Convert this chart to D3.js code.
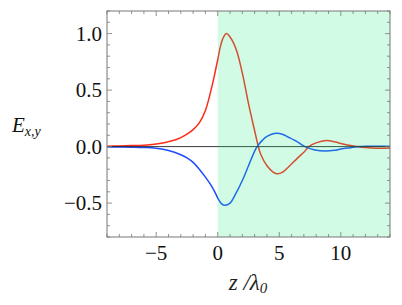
<!DOCTYPE html>
<html><head><meta charset="utf-8">
<script src="https://cdn.jsdelivr.net/npm/d3@7"></script>
<style>body{margin:0;background:#fff}svg{display:block}</style>
</head><body><svg id="c" width="402" height="305"></svg>
<script>
const zRed = [-9,-8,-7,-6,-5,-4.5,-4,-3.5,-3,-2.5,-2,-1.5,-1,-0.5,-0.25,0,0.25,0.5,0.7,1,1.5,2,2.5,3,3.3,3.5,4,4.5,4.8,5.25,5.75,6.5,7,7.4,8,8.8,9.5,10,10.8,11.3,12,13,14];
const exVals = [0.004,0.006,0.009,0.013,0.023,0.031,0.044,0.058,0.08,0.11,0.15,0.21,0.32,0.52,0.64,0.77,0.9,0.975,1.0,0.97,0.86,0.65,0.38,0.14,0.0,-0.07,-0.17,-0.225,-0.24,-0.228,-0.18,-0.1,-0.05,0.0,0.033,0.053,0.042,0.028,0.009,0.0,-0.009,-0.014,-0.012];
const zBlue = [-9,-8,-7,-6,-5,-4,-3,-2.5,-2,-1.5,-1,-0.5,-0.2,0,0.3,0.6,1,1.4,2,2.5,3,3.2,3.6,4,4.7,5.25,5.75,6.5,7.1,7.9,8.75,9.5,10,10.8,11.5,12,13,14];
const eyVals = [-0.002,-0.003,-0.005,-0.008,-0.015,-0.034,-0.072,-0.1,-0.14,-0.2,-0.27,-0.35,-0.41,-0.455,-0.505,-0.52,-0.5,-0.43,-0.3,-0.17,-0.04,0.0,0.053,0.09,0.118,0.11,0.083,0.04,0.0,-0.03,-0.04,-0.033,-0.022,-0.01,0.0,0.003,0.004,0.003];
const xTicks = [-5,0,5,10];
const yTicks = [-0.5,0,0.5,1.0];
const xDomain = [-9,14], yDomain = [-0.8,1.2];
const shadeFrom = 0;

const FONT = "'Liberation Serif','Tinos','Times New Roman','DejaVu Serif',serif";
const svg = d3.select("#c");
const L=107,R=390,T=11,B=237;
const x = d3.scaleLinear().domain(xDomain).range([L,R]);
const y = d3.scaleLinear().domain(yDomain).range([B,T]);

const line = d3.line().x(d=>x(d[0])).y(d=>y(d[1])).curve(d3.curveCatmullRom.alpha(0.5));
svg.append("clipPath").attr("id","pc").append("rect").attr("x",L).attr("y",T).attr("width",R-L).attr("height",B-T);
const g = svg.append("g").attr("clip-path","url(#pc)");
g.append("path").datum(zRed.map((z,i)=>[z,exVals[i]])).attr("d",line).attr("fill","none").attr("stroke","#ff2a1a").attr("stroke-width",1.5);
g.append("path").datum(zBlue.map((z,i)=>[z,eyVals[i]])).attr("d",line).attr("fill","none").attr("stroke","#1f4cff").attr("stroke-width",1.5);
g.append("line").attr("x1",L).attr("x2",R).attr("y1",y(0)).attr("y2",y(0)).attr("stroke","#222").attr("stroke-width",0.9);
g.append("rect").attr("x",x(shadeFrom)).attr("y",T).attr("width",x(xDomain[1])-x(shadeFrom)).attr("height",B-T).attr("fill","rgb(30,235,130)").attr("fill-opacity",0.2);

svg.append("rect").attr("x",L).attr("y",T).attr("width",R-L).attr("height",B-T).attr("fill","none").attr("stroke","#777").attr("stroke-width",1);
const tk = svg.append("g").attr("stroke","#777").attr("stroke-width",0.8);
d3.range(-9,14.01,1).forEach(v=>{
  const major = v%5===0; const len = major?5:3; const px=x(v);
  tk.append("line").attr("x1",px).attr("x2",px).attr("y1",B).attr("y2",B-len);
  tk.append("line").attr("x1",px).attr("x2",px).attr("y1",T).attr("y2",T+len);
});
d3.range(-8,12.01,1).forEach(k=>{
  const v=k/10; const major = k%5===0; const len = major?5:3; const py=y(v);
  tk.append("line").attr("y1",py).attr("y2",py).attr("x1",L).attr("x2",L+len);
  tk.append("line").attr("y1",py).attr("y2",py).attr("x1",R).attr("x2",R-len);
});
const fmtY = v=> (v<0?"\u2212":"")+Math.abs(v).toFixed(1);
const fmtX = v=> (v<0?"\u2212":"")+Math.abs(v);
svg.append("g").selectAll("text").data(xTicks).join("text").attr("x",d=>x(d)).attr("y",260).attr("text-anchor","middle").attr("font-family",FONT).attr("font-size",21).attr("fill","#111").text(fmtX);
svg.append("g").selectAll("text").data(yTicks).join("text").attr("x",102).attr("y",d=>y(d)+7).attr("text-anchor","end").attr("font-family",FONT).attr("font-size",21).attr("fill","#111").text(fmtY);

const xt = svg.append("text").attr("x",248).attr("y",290).attr("text-anchor","middle").attr("font-family",FONT).attr("font-size",23).attr("font-style","italic").attr("fill","#222");
xt.append("tspan").text("z /λ");
xt.append("tspan").attr("font-size",15).attr("dy",3).text("0");
const yt = svg.append("text").attr("x",12).attr("y",132).attr("font-family",FONT).attr("font-size",21).attr("font-style","italic").attr("fill","#111");
yt.append("tspan").text("E");
yt.append("tspan").attr("font-size",14).attr("dy",4).text("x,y");
</script></body></html>
